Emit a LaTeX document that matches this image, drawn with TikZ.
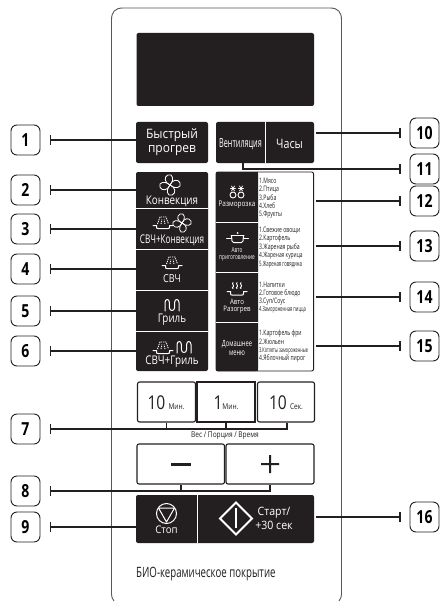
\documentclass[tikz,border=0pt]{standalone}
\usepackage{fontspec}
\setmainfont{Open Sans}
\newfontfamily\fmd[FakeStretch=0.92]{Open Sans}
\newfontfamily\fnr[FakeStretch=0.82]{Open Sans}
\newfontfamily\fcd[FakeStretch=0.68]{Open Sans}
\newfontfamily\fxc[FakeStretch=0.58]{Open Sans}
\newfontfamily\fbd[FakeStretch=0.78,BoldFont={Open Sans Bold}]{Open Sans}
\usetikzlibrary{arrows.meta}
\definecolor{ink}{HTML}{231F20}
\newcommand{\fsz}[1]{\fontsize{#1}{#1}\selectfont}
\tikzset{
  x=1pt,y=-1pt,
  panelline/.style={draw=ink!75,line width=0.9pt},
  darkfill/.style={fill=ink,draw=none},
  sep/.style={draw=white,line width=0.8pt},
  slot/.style={draw=none,inner sep=0pt,minimum width=#1},
  keybox/.style={draw=ink,line width=1.1pt,fill=white,rounded corners=2pt,inner sep=0pt},
  lab/.style={draw=ink,line width=0.9pt,rounded corners=6pt,minimum width=29pt,minimum height=30pt,inner sep=0pt,font=\fbd\bfseries\fsz{18}},
  conn/.style={draw=ink,line width=1.5pt},
  tee/.style={conn,{Bar[width=10pt,line width=1.5pt]}-},
  wt/.style={text=white,inner sep=0pt,anchor=center},
  bk/.style={text=ink,inner sep=0pt,anchor=center},
  ls/.style={text=ink,inner sep=0pt,anchor=west,font=\fcd\fsz{7.5}},
  ic/.style={draw=white,line width=#1,line cap=round,line join=round},
  ic/.default=1pt,
  pics/fan/.style={code={
    \foreach \a in {35,125,215,305}{
      \draw[ic=0.8pt,rotate=\a] (0,0) .. controls (-0.35,-0.5) and (-0.1,-1.15) .. (0.45,-1.05)
        .. controls (1.05,-0.95) and (0.7,-0.1) .. (0,0);}
  }},
  pics/dish/.style={code={
    \draw[ic=1pt] (-10,3.5) -- (-6.5,3.5) -- (-6.5,5) .. controls (-6.5,6.5) and (-6,6.5) .. (-5,6.5) -- (5,6.5)
       .. controls (6,6.5) and (6.5,6.5) .. (6.5,5) -- (6.5,3.5) -- (10,3.5);
    \draw[ic=0.9pt,dash pattern=on 1.2pt off 0.9pt,line cap=butt] (-5.5,2) -- (-3,-5) -- (3,-5) -- (5.5,2);
    \draw[ic=0.9pt,dash pattern=on 1.2pt off 0.9pt,line cap=butt] (-2,2) -- (-1,-2.5) (2,2) -- (1,-2.5);
  }},
  pics/grill/.style={code={
    \draw[ic=1pt] (-7,6) -- (-7,-2.5) .. controls (-7,-6.5) and (-2.6,-6.5) .. (-2.6,-2.5) -- (-2.6,2.5)
      .. controls (-2.6,6.5) and (2.6,6.5) .. (2.6,2.5) -- (2.6,-2.5) .. controls (2.6,-6.5) and (7,-6.5) .. (7,-2.5) -- (7,6);
  }},
  pics/pot/.style={code={
    \fill[white] (0,-5) circle (1pt);
    \draw[ic=1pt] (-6.5,-2.5) -- (6.5,-2.5);
    \draw[ic=1pt] (-6,-2.5) -- (-5.5,3) .. controls (-5.3,4.5) and (-5,4.5) .. (-4,4.5) -- (4,4.5)
       .. controls (5,4.5) and (5.3,4.5) .. (5.5,3) -- (6,-2.5);
    \draw[ic=1pt] (-11,0.5) -- (-6,0.5) (6,0.5) -- (11,0.5);
  }},
  pics/steam/.style={code={
    \draw[ic=1pt] (-10,3) -- (-6.5,3) -- (-6.5,5) .. controls (-6.5,6.5) and (-6,6.5) .. (-5,6.5) -- (5,6.5)
       .. controls (6,6.5) and (6.5,6.5) .. (6.5,5) -- (6.5,3) -- (10,3);
    \foreach \d in {-4,0,4}{
      \draw[ic=0.9pt,xshift=\d pt] (0,-6) .. controls (-2,-4.5) and (2,-3) .. (0,-1.5) .. controls (-1,-0.7) .. (0,0);}
  }},
  pics/snow/.style={code={
    \foreach \d in {-4,4}{
      \begin{scope}[xshift=\d pt]
        \draw[ic=0.7pt] (-2.5,-4.5) -- (2.5,-4.5) (-1.5,-7) -- (1.5,-2) (1.5,-7) -- (-1.5,-2);
        \draw[ic=0.9pt] (0,2) circle (3pt);
      \end{scope}}
  }},
}
\begin{document}
\begin{tikzpicture}
\useasboundingbox (0,0) rectangle (440,604);
\fill[white] (0,0) rectangle (440,604);
% outer panel
\draw[panelline] (114,601) .. controls (112,598) and (111.5,597) .. (111.5,594) -- (111.5,20)
  .. controls (111.5,12) and (115,8) .. (123,8) -- (330,8) .. controls (338,8) and (341.5,12) .. (341.5,20)
  -- (341.5,594) .. controls (341.5,597) and (341,598) .. (339,601);
% display
\node[darkfill,rounded corners=2pt,minimum width=177.5pt,minimum height=73pt,inner sep=0pt] (display) at (225.25,69.5) {};
% left column
\node[darkfill,rounded corners=2pt,minimum width=72pt,minimum height=41pt,inner sep=0pt] (quick) at (172,142.5) {};
\fill[ink,rounded corners=2pt] (136,172) rectangle (208,371);
\draw[sep] (136,208.5) -- (208,208.5) (136,249.5) -- (208,249.5) (136,290.5) -- (208,290.5) (136,331.5) -- (208,331.5);
\node[slot=72pt,minimum height=36pt] (conv) at (172,190) {};
\node[slot=72pt,minimum height=40pt] (mwconv) at (172,229) {};
\node[slot=72pt,minimum height=40pt] (mw) at (172,270) {};
\node[slot=72pt,minimum height=40pt] (gril) at (172,311) {};
\node[slot=72pt,minimum height=39pt] (mwgril) at (172,351) {};
% right top
\node[darkfill,rounded corners=2pt,minimum width=98pt,minimum height=41pt,inner sep=0pt] (venthours) at (265,142.5) {};
\draw[sep] (265.5,122) -- (265.5,163);
% right column
\draw[draw=ink,line width=0.9pt,fill=white,rounded corners=2pt] (216,172) rectangle (313.6,371);
\fill[ink,rounded corners=2pt] (216,172) rectangle (258,371);
\fill[ink] (250,172) rectangle (258,371);
\draw[sep] (216,222.5) -- (258,222.5) (216,272.5) -- (258,272.5) (216,322.5) -- (258,322.5);
\node[slot=98pt,minimum height=50pt] (defrost) at (265,201) {};
\node[slot=98pt,minimum height=49pt] (autocook) at (265,246) {};
\node[slot=98pt,minimum height=49pt] (autoheat) at (265,297) {};
\node[slot=98pt,minimum height=48pt] (home) at (265,346) {};
% time keys
\node[keybox,minimum width=58pt,minimum height=40pt] (t10m) at (166.5,402) {};
\node[keybox,minimum width=58pt,minimum height=40pt,rounded corners=0pt] (t1m) at (226,402) {};
\node[keybox,minimum width=57pt,minimum height=40pt] (t10s) at (286,402) {};
% minus plus
\node[keybox,minimum width=87.5pt,minimum height=40pt] (minus) at (180.75,464) {};
\node[keybox,minimum width=88pt,minimum height=40pt] (plus) at (270,464) {};
\fill[ink] (171,462.8) rectangle (191,465.8);
\fill[ink] (261,463) rectangle (279,465) (269,455) rectangle (271,473);
% stop start
\node[darkfill,rounded corners=2pt,minimum width=178pt,minimum height=48pt,inner sep=0pt] (stopstart) at (225,519) {};
\draw[sep] (197.5,495) -- (197.5,543);
% texts, left
\node[wt,font=\fmd\fsz{13},align=center] (tquick) at (172,142.5) {Быстрый\\[1pt]прогрев};
\pic[scale=9] at (170,185) {fan};
\node[wt,font=\fnr\fsz{12}] (tconv) at (172,201) {Конвекция};
\pic at (163,222) {dish};
\pic[scale=8] at (182,223) {fan};
\node[wt,font=\fcd\fsz{12}] (tmwconv) at (172,240) {СВЧ+Конвекция};
\pic at (172,262) {dish};
\node[wt,font=\fnr\fsz{11}] (tmw) at (172,279) {СВЧ};
\pic at (172,305) {grill};
\node[wt,font=\fnr\fsz{12}] (tgril) at (172,320) {Гриль};
\pic at (163,347) {dish};
\pic at (184,347) {grill};
\node[wt,font=\fnr\fsz{12}] (tmwgril) at (172,362) {СВЧ+Гриль};
% texts, right
\node[wt,font=\fxc\fsz{12.5}] (tvent) at (240.5,144) {Вентиляция};
\node[wt,font=\fnr\fsz{13}] (thours) at (289.5,144) {Часы};
\pic at (237,193) {snow};
\node[wt,font=\fnr\fsz{7.8}] (tdef) at (237,205) {Разморозка};
\pic at (237.5,238) {pot};
\node[wt,font=\fcd\fsz{7}] (tauto) at (237,250.5) {Авто};
\node[wt,font=\fcd\fsz{7}] (tcook) at (237,258) {приготовление};
\pic at (237,288.5) {steam};
\node[wt,font=\fnr\fsz{7.5}] (theat1) at (237,302) {Авто};
\node[wt,font=\fnr\fsz{7.5}] (theat2) at (237,310) {Разогрев};
\node[wt,font=\fcd\fsz{8.5}] (thome1) at (237,344) {Домашнее};
\node[wt,font=\fcd\fsz{8.5}] (thome2) at (237,353) {меню};
% lists
\node[ls] (a1) at (259,181) {1.Мясо};
\node[ls] (a2) at (259,189.3) {2.Птица};
\node[ls] (a3) at (259,197.7) {3.Рыба};
\node[ls] (a4) at (259,206) {4.Хлеб};
\node[ls] (a5) at (259,214.7) {5.Фрукты};
\node[ls] (b1) at (259,230.3) {1.Свежие овощи};
\node[ls] (b2) at (259,239) {2.Картофель};
\node[ls] (b3) at (259,247.3) {3.Жареная рыба};
\node[ls,font=\fcd\fsz{7.2}] (b4) at (259,256) {4.Жареная курица};
\node[ls,font=\fxc\fsz{7.4}] (b5) at (259,264.3) {5.Жареная говядина};
\node[ls] (c1) at (259,285) {1.Напитки};
\node[ls] (c2) at (259,293.5) {2.Готовое блюдо};
\node[ls] (c3) at (259,302) {3.Суп/Соус};
\node[ls,font=\fxc\fsz{7}] (c4) at (259,310) {4.Замороженная пицца};
\node[ls] (d1) at (259,333.5) {1.Картофель фри};
\node[ls] (d2) at (259,342) {2.Жюльен};
\node[ls,font=\fxc\fsz{6.7}] (d3) at (259,350.5) {3.Котлеты замороженные};
\node[ls] (d4) at (259,359) {4.Яблочный пирог};
% key texts
\node[bk] (x10m) at (166,403) {\fnr\fsz{19}10\,\fsz{8}Мин.};
\node[bk] (x1m) at (226,403) {\fnr\fsz{19}1\fsz{8}Мин.};
\node[bk] (x10s) at (286,403) {\fnr\fsz{19}10\,\fsz{8}Сек.};
\node[bk,font=\fnr\fsz{8}] (weight) at (225,436) {Вес / Порция / Время};
% stop / start
\draw[ic=1pt] (166.5,513.5) circle (10pt);
\draw[ic=1pt] (158.5,508) -- (174.5,508) -- (166.5,522) -- cycle;
\node[wt,font=\fmd\fsz{10.5}] (tstop) at (166.5,530) {Стоп};
\draw[ic=2pt,line join=miter] (236,502.5) -- (252,518.5) -- (236,534.5) -- (220,518.5) -- cycle;
\draw[ic=1.6pt,line cap=butt] (236,508) -- (236,528);
\node[wt,font=\fmd\fsz{11.5}] (tstart1) at (274,513) {Старт/};
\node[wt,font=\fmd\fsz{11.5}] (tstart2) at (274,525) {+30 сек};
\node[bk,font=\fcd\fsz{14.2},anchor=west] (bio) at (136,574) {БИО-керамическое покрытие};
% labels
\node[lab] (l1) at (25.5,140) {1};
\node[lab] (l2) at (25.5,190) {2};
\node[lab] (l3) at (25.5,229) {3};
\node[lab] (l4) at (25.5,269) {4};
\node[lab] (l5) at (25.5,311) {5};
\node[lab] (l6) at (25.5,351) {6};
\node[lab] (l7) at (25.5,429) {7};
\node[lab] (l8) at (25.5,491) {8};
\node[lab] (l9) at (25.5,527) {9};
\node[lab] (l10) at (424.5,133) {10};
\node[lab] (l11) at (424.5,169) {11};
\node[lab] (l12) at (424.5,201) {12};
\node[lab] (l13) at (424.5,246) {13};
\node[lab] (l14) at (424.5,297) {14};
\node[lab] (l15) at (424.5,346) {15};
\node[lab] (l16) at (424.5,517) {16};
% connectors, left
\foreach \n/\b in {1/quick,2/conv,3/mwconv,4/mw,5/gril,6/mwgril,9/stopstart}{
  \draw[tee] ([xshift=9.5pt]l\n.east) -- ([xshift=9.5pt]l\n.east -| \b.west);
}
\draw[tee] ([xshift=9.5pt]l7.east) -| ([xshift=1pt]t10s.south);
\draw[conn] (t10m.south) -- (t10m.south |- l7.east);
\draw[conn] (t1m.south) -- (t1m.south |- l7.east);
\draw[tee] ([xshift=9.5pt]l8.east) -| (plus.south);
\draw[conn] (minus.south) -- (minus.south |- l8.east);
% connectors, right
\foreach \n/\b in {10/venthours,12/defrost,13/autocook,14/autoheat,15/home,16/stopstart}{
  \draw[tee] ([xshift=-9pt]l\n.west) -- ([xshift=2pt]l\n.west -| \b.east);
}
\coordinate (ventfoot) at (243,163);
\draw[tee] ([xshift=-9pt]l11.west) -| (ventfoot);
\end{tikzpicture}
\end{document}
